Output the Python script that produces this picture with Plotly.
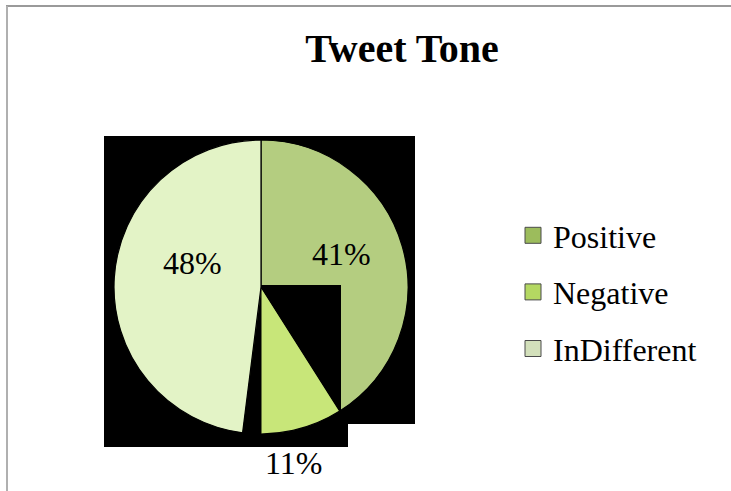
import math
import plotly.graph_objects as go

# ---- data ----
categories = ["Positive", "Negative", "InDifferent"]
values = [41, 11, 48]
title_text = "Tweet Tone"

# ---- style ----
W, H = 731, 491
slice_colors = ["#b4cd80", "#c8e679", "#e3f3c6"]
legend_colors = ["#9cbc5c", "#b4d862", "#d3e0bb"]
serif = "Liberation Serif, Times New Roman, serif"

# pie geometry in pixels (center, radius)
CX, CY, R = 261, 287, 147
# label placement: (radius fraction, angle shift in degrees) from slice mid-angle
label_place = [(0.59, -6.0), (1.22, 2.0), (0.49, 15.5)]


def px(x):
    return x / W


def py(y):
    return 1 - y / H


total = sum(values)

fig = go.Figure()

fig.add_trace(go.Pie(
    labels=categories,
    values=values,
    sort=False,
    direction="clockwise",
    rotation=0,
    marker=dict(colors=slice_colors, line=dict(color="black", width=1.2)),
    textinfo="none",
    domain=dict(x=[px(CX - R), px(CX + R)], y=[py(CY + R), py(CY - R)]),
    showlegend=False,
    hoverinfo="label+percent",
))

# legend entries (one per category)
for cat, col in zip(categories, legend_colors):
    fig.add_trace(go.Scatter(
        x=[None], y=[None], mode="markers", name=cat,
        legendgroup=cat,
        marker=dict(symbol="square", size=18, color=col,
                    line=dict(color="#4a4a4a", width=1)),
        showlegend=True,
    ))

# percentage labels derived from the data
annotations = []
cum = 0
for v, (rf, shift) in zip(values, label_place):
    mid = 360.0 * (cum + v / 2) / total + shift
    cum += v
    ang = math.radians(mid)
    lx = CX + rf * R * math.sin(ang)
    ly = CY - rf * R * math.cos(ang)
    annotations.append(dict(
        text="{:.0f}%".format(100.0 * v / total), x=px(lx), y=py(ly),
        xref="paper", yref="paper", xanchor="center", yanchor="middle",
        showarrow=False, font=dict(family=serif, size=32, color="black")))

# decoration: black backgrounds from the reference rendering
a1 = 2 * math.pi * values[0] / total
a2 = 2 * math.pi * (values[0] + values[1]) / total
shapes = [
    dict(type="rect", xref="paper", yref="paper", layer="below",
         x0=px(104), x1=px(415), y0=py(424), y1=py(136),
         fillcolor="black", line=dict(width=0)),
    dict(type="rect", xref="paper", yref="paper", layer="below",
         x0=px(104), x1=px(348), y0=py(447), y1=py(136),
         fillcolor="black", line=dict(width=0)),
]
dx = 80
dy = dx * (-math.cos(a1)) / math.sin(a1)
path1 = "M {},{} L {},{} L {},{} L {},{} Z".format(
    px(CX), py(CY - 2), px(CX + dx), py(CY - 2),
    px(CX + dx), py(CY + dy), px(CX), py(CY))
shapes.append(dict(type="path", xref="paper", yref="paper", layer="above",
                   path=path1, fillcolor="black", line=dict(width=0)))
Rp = R + 4
path2 = "M {},{} L {},{} L {},{} Z".format(
    px(CX + 0.5), py(CY), px(CX + 0.5), py(CY + Rp),
    px(CX + Rp * math.sin(a2) / (-math.cos(a2))), py(CY + Rp))
shapes.append(dict(type="path", xref="paper", yref="paper", layer="above",
                   path=path2, fillcolor="black", line=dict(width=0)))
# chart frame
shapes.append(dict(type="line", xref="paper", yref="paper", layer="above",
                   x0=px(6), x1=1.0, y0=py(6), y1=py(6),
                   line=dict(color="#9a9a9a", width=2)))
shapes.append(dict(type="line", xref="paper", yref="paper", layer="above",
                   x0=px(7), x1=px(7), y0=py(6), y1=0.0,
                   line=dict(color="#b0b0b0", width=2)))

fig.update_layout(
    width=W, height=H,
    margin=dict(l=0, r=0, t=0, b=0),
    paper_bgcolor="white",
    plot_bgcolor="white",
    title=dict(text="<b>" + title_text + "</b>", x=px(402), xanchor="center",
               y=py(48), yanchor="middle",
               font=dict(family=serif, size=40, color="black")),
    xaxis=dict(visible=False),
    yaxis=dict(visible=False),
    legend=dict(x=px(513), xanchor="left", y=py(208), yanchor="top",
                font=dict(family=serif, size=32, color="black"),
                tracegroupgap=12, bgcolor="rgba(0,0,0,0)"),
    shapes=shapes,
    annotations=annotations,
)

fig.write_html("out.html",
               config={"displayModeBar": False},
               post_script="document.body.style.margin='0';"
                           "document.body.style.overflow='hidden';")
